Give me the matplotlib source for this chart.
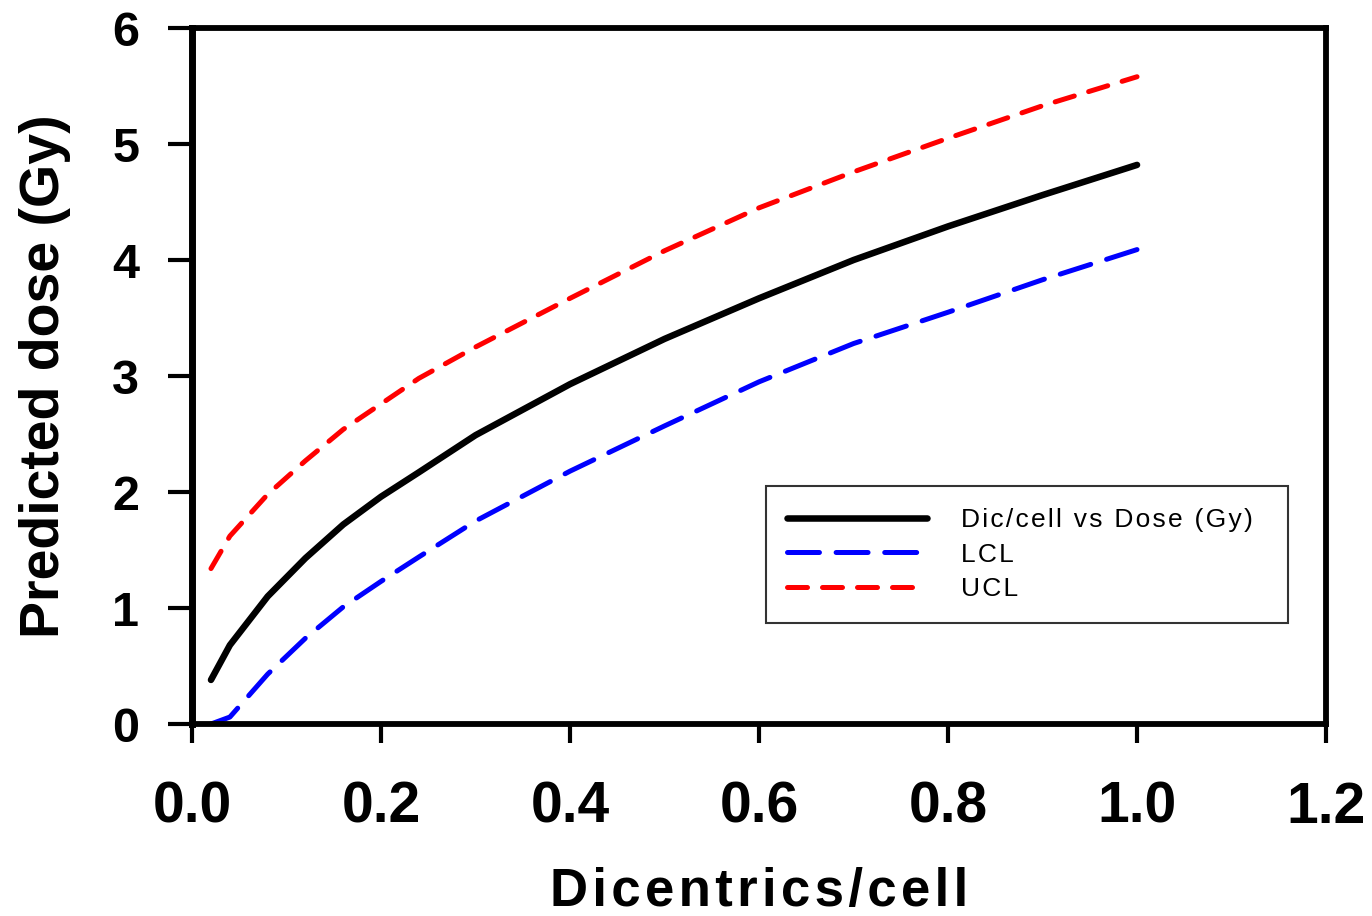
import matplotlib
matplotlib.use("Agg")
import matplotlib.pyplot as plt

plt.rcParams['font.family'] = ['Liberation Sans', 'DejaVu Sans']
plt.rcParams['lines.scale_dashes'] = False

x = [0.02, 0.04, 0.08, 0.12, 0.16, 0.2, 0.24, 0.3, 0.4, 0.5, 0.6, 0.7, 0.8, 0.9, 1.0]
dose = [0.38, 0.68, 1.10, 1.43, 1.72, 1.96, 2.17, 2.49, 2.93, 3.32, 3.67, 4.00, 4.29, 4.56, 4.82]
lcl = [0.0, 0.06, 0.43, 0.74, 1.01, 1.23, 1.44, 1.75, 2.18, 2.57, 2.95, 3.28, 3.55, 3.83, 4.09]
ucl = [1.34, 1.62, 1.98, 2.27, 2.54, 2.76, 2.98, 3.25, 3.67, 4.08, 4.45, 4.76, 5.05, 5.33, 5.58]

labels = ["Dic/cell vs Dose (Gy)", "LCL", "UCL"]
xticks = [0.0, 0.2, 0.4, 0.6, 0.8, 1.0, 1.2]
yticks = [0, 1, 2, 3, 4, 5, 6]


def spaced(s):
    return "\u200a".join(s)


fig = plt.figure(figsize=(13.72, 9.16), dpi=100)
ax = fig.add_axes([0.140, 0.2096, 0.8265, 0.7598])

ax.plot(x, dose, color='black', lw=4.7, solid_capstyle='round', solid_joinstyle='round',
        label=spaced(labels[0]) + "\u2002")
ax.plot(x, lcl, color='#0000ff', lw=3.6, dashes=(23, 12), dash_capstyle='round',
        label=spaced(labels[1]))
ax.plot(x, ucl, color='#ff0000', lw=3.6, dashes=(14.4, 10.8), dash_capstyle='round',
        label=spaced(labels[2]))

ax.set_xlim(0, 1.2)
ax.set_ylim(0, 6)
ax.set_xticks(xticks)
ax.set_xticklabels([f"{v:.1f}" for v in xticks])
ax.set_yticks(yticks)
ax.set_yticklabels([str(v) for v in yticks])

for name, s in ax.spines.items():
    s.set_linewidth(5.0 if name == 'left' else 4.2)

ax.tick_params(axis='y', direction='out', length=17, width=3, labelsize=35, pad=21)
ax.tick_params(axis='x', direction='out', length=14, width=3, labelsize=41, pad=27)
for lab in ax.get_xticklabels() + ax.get_yticklabels():
    lab.set_fontweight('bold')

ax.set_xlabel(spaced("Dicentrics/cell"), fontsize=38, fontweight='bold', labelpad=23)
ax.set_ylabel("Predicted dose (Gy)", fontsize=40, fontweight='bold')
ax.yaxis.set_label_coords(-0.107, 0.5)

leg = ax.legend(loc='lower right', bbox_to_anchor=(0.9665, 0.145), fontsize=19,
                frameon=True, fancybox=False, handlelength=5.3, borderpad=0.82,
                labelspacing=0.41, handletextpad=1.29, borderaxespad=0)
leg.get_frame().set_edgecolor('black')
leg.get_frame().set_linewidth(1.5)

fig.savefig("out.png", dpi=100)
